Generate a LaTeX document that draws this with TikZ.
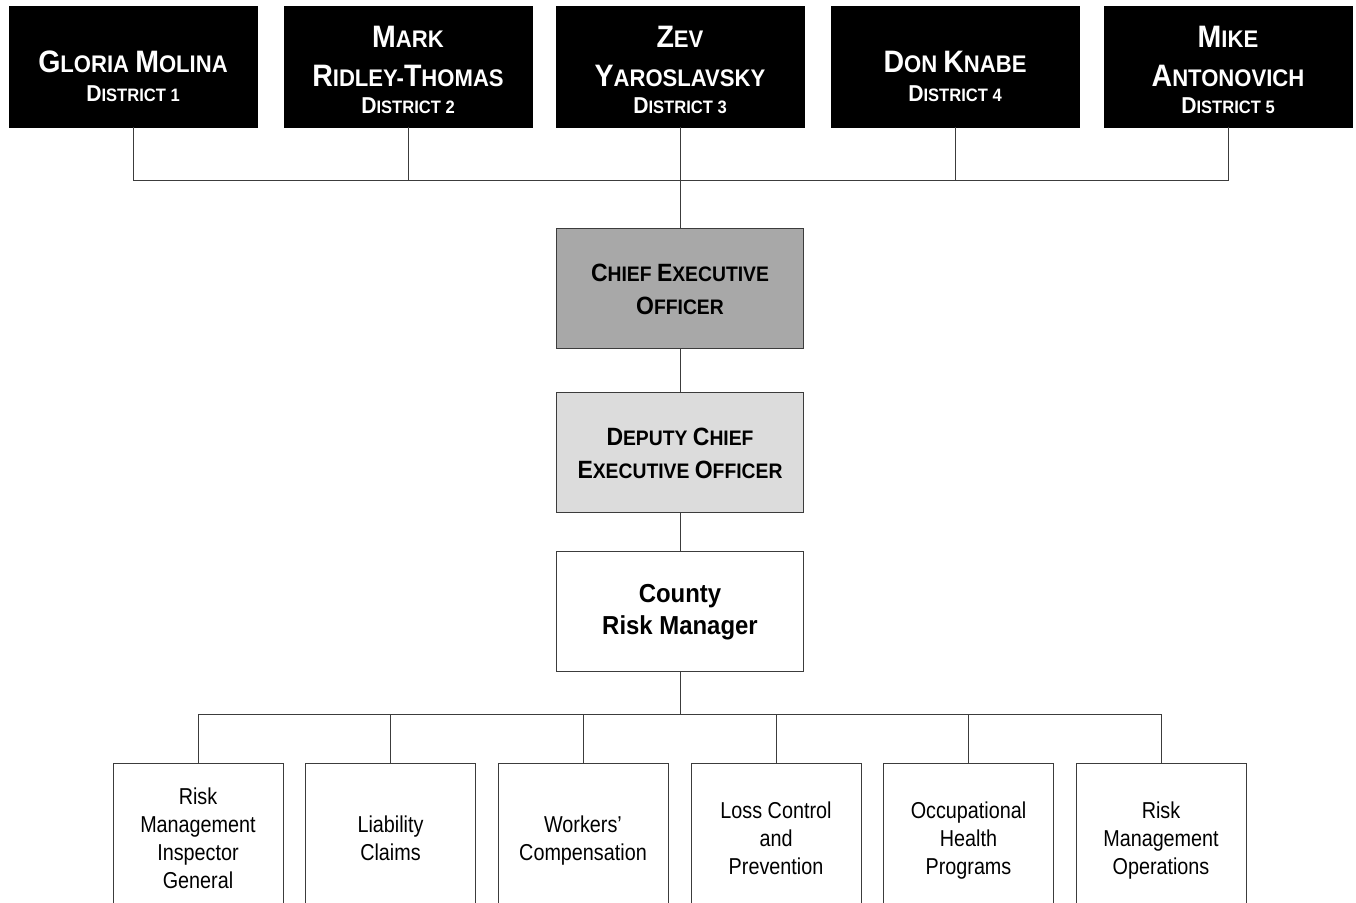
\documentclass[tikz,border=0pt]{standalone}
\usepackage{fontspec}
\setmainfont{Liberation Sans}
\newfontfamily\headfont{Liberation Sans}[FakeStretch=0.92]
\newfontfamily\unitfont{Liberation Sans}[FakeStretch=0.86]
\usetikzlibrary{positioning}
\definecolor{ceogray}{HTML}{A8A8A8}
\definecolor{deputygray}{HTML}{DCDCDC}
\definecolor{linegray}{HTML}{3C3C3C}

% small caps by hand: big first letter, rest smaller
\newcommand\namecap[2]{{\fontsize{15.5}{19.5}\selectfont #1}#2}
\newcommand\distcap[2]{{\fontsize{11.5}{14}\selectfont #1}{\fontsize{9}{14}\selectfont #2}}
\newcommand\ceocap[2]{{\fontsize{12.5}{16.5}\selectfont #1}#2}

\begin{document}
\begin{tikzpicture}[x=0.5pt, y=-0.5pt,
    board/.style={draw=black, fill=black, text=white, inner sep=0pt,
      minimum width=124pt, minimum height=60.5pt, align=center,
      text height=47.5pt, text depth=0pt,
      font=\headfont\bfseries\fontsize{12}{19.5}\selectfont},
    board2/.style={board, text height=35.5pt},
    officer/.style={draw=linegray, line width=0.5pt, inner sep=0pt,
      minimum width=123.5pt, minimum height=60pt, align=center,
      font=\headfont\bfseries\fontsize{10.5}{16.5}\selectfont},
    unit/.style={draw=linegray, line width=0.5pt, fill=white, inner sep=0pt,
      minimum width=85pt, minimum height=75pt, align=center, text depth=0pt,
      font=\unitfont\fontsize{11.5}{14}\selectfont},
    wire/.style={draw=linegray, line width=0.5pt}]
  \useasboundingbox (0,0) rectangle (1356,903);

  % board of supervisors
  \node[board2] (d1) at (133,66.5) {\namecap{G}{LORIA} \namecap{M}{OLINA}\\[-5pt]\distcap{D}{ISTRICT 1}};
  \node[board] (d2) at (408,66.5) {\namecap{M}{ARK}\\\namecap{R}{IDLEY}-\namecap{T}{HOMAS}\\[-6pt]\distcap{D}{ISTRICT 2}};
  \node[board] (d3) at (680,66.5) {\namecap{Z}{EV}\\\namecap{Y}{AROSLAVSKY}\\[-6pt]\distcap{D}{ISTRICT 3}};
  \node[board2] (d4) at (955,66.5) {\namecap{D}{ON} \namecap{K}{NABE}\\[-5pt]\distcap{D}{ISTRICT 4}};
  \node[board] (d5) at (1228,66.5) {\namecap{M}{IKE}\\\namecap{A}{NTONOVICH}\\[-6pt]\distcap{D}{ISTRICT 5}};

  % executive column
  \node[officer, fill=ceogray] (ceo) at (680,289) {\ceocap{C}{HIEF} \ceocap{E}{XECUTIVE}\\\ceocap{O}{FFICER}};
  \node[officer, fill=deputygray, below=21.5pt of ceo] (dceo) {\ceocap{D}{EPUTY} \ceocap{C}{HIEF}\\\ceocap{E}{XECUTIVE} \ceocap{O}{FFICER}};
  \node[officer, fill=white, below=19pt of dceo, font=\headfont\bfseries\fontsize{13}{16}\selectfont] (crm) {County\\Risk Manager};

  % divisions
  \node[unit] (u1) at (198,838) {Risk\\Management\\Inspector\\General};
  \node[unit] (u2) at (390.5,838) {Liability\\Claims};
  \node[unit] (u3) at (583,838) {Workers’\\Compensation};
  \node[unit] (u4) at (776,838) {Loss Control\\and\\Prevention};
  \node[unit] (u5) at (968.5,838) {Occupational\\Health\\Programs};
  \node[unit] (u6) at (1161,838) {Risk\\Management\\Operations};

  \coordinate (topbus) at (680,181);
  \coordinate (unitbus) at (680,714);

  \foreach \d in {d1,d2,d4,d5}
    \draw[wire] (\d.south) |- (topbus);
  \draw[wire] (d3.south) -- (ceo.north);
  \draw[wire] (ceo.south) -- (dceo.north);
  \draw[wire] (dceo.south) -- (crm.north);
  \draw[wire] (crm.south) -- (unitbus);
  \foreach \u in {u1,u2,u3,u4,u5,u6}
    \draw[wire] (\u.north) |- (unitbus);
\end{tikzpicture}
\end{document}
